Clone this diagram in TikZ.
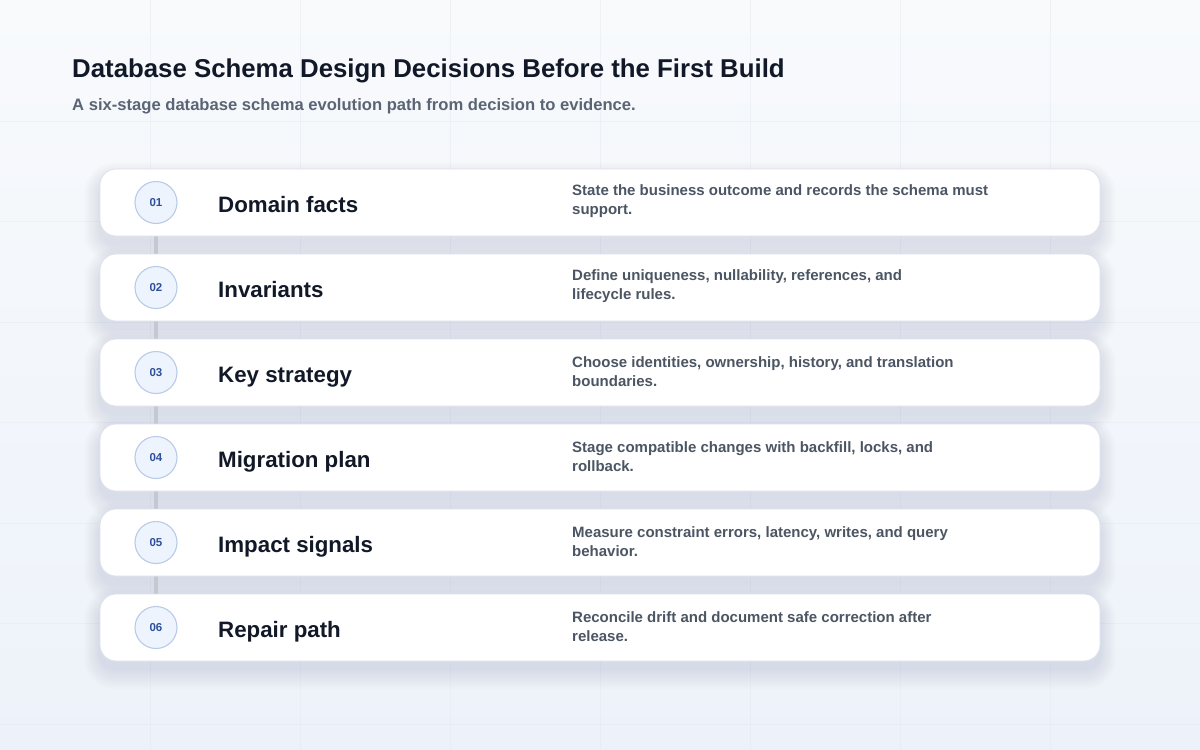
\documentclass[tikz,border=0pt]{standalone}
\usepackage{fontspec}
\setmainfont{Liberation Sans}
\definecolor{bgA}{HTML}{F8FAFC}
\definecolor{bgB}{HTML}{EDF2FA}
\definecolor{gridc}{HTML}{E4E9F1}
\definecolor{shadowc}{HTML}{3B4A70}
\definecolor{cardline}{HTML}{DCE2EC}
\definecolor{discfill}{HTML}{EEF4FD}
\definecolor{discline}{HTML}{B9CBE6}
\definecolor{disctext}{HTML}{2F4F9C}
\definecolor{titlec}{HTML}{111827}
\definecolor{subc}{HTML}{5B6474}
\definecolor{descc}{HTML}{4B5563}
\definecolor{connc}{HTML}{C4C8D0}
\pgfdeclarelayer{bg}
\pgfdeclarelayer{conn}
\pgfsetlayers{bg,conn,main}
\tikzset{
  cardbox/.style={draw=cardline, line width=0.8pt, fill=white, rounded corners=16pt,
    minimum width=1000pt, minimum height=67pt, inner sep=0pt},
  numdisc/.style={circle, draw=discline, line width=1.1pt, fill=discfill, minimum size=42pt,
    inner sep=0pt, text=disctext, font=\fontsize{11.5}{13}\selectfont\bfseries},
  stagetitle/.style={anchor=base west, inner sep=0pt, text=titlec,
    font=\fontsize{22.3}{26}\selectfont\bfseries},
  stagedesc/.style={anchor=west, inner sep=0pt, align=left, text=descc,
    font=\fontsize{15}{19}\selectfont\bfseries},
  connline/.style={draw=connc, line width=3.5pt},
  headline/.style={anchor=base west, inner sep=0pt, text=titlec,
    font=\fontsize{25.8}{30}\selectfont\bfseries},
  subline/.style={anchor=base west, inner sep=0pt, text=subc,
    font=\fontsize{16.6}{19}\selectfont\bfseries}
}
\newcommand\stagecard[6]{%
  \begin{pgfonlayer}{bg}
    \foreach \i in {1,...,12} {
      \fill[shadowc, opacity=0.0075, rounded corners={(16+\i*1.2)*1pt}]
        (100-\i*1.3, #2+10-\i*1.4) rectangle (1100+\i*1.3, #2+67+8+\i*1.7);
    }
  \end{pgfonlayer}
  \node[cardbox] (card#1) at (600, #2+33.5) {};
  \node[numdisc] (c#1) at (156, #2+33.5) {#3};
  \node[stagetitle] (t#1) at (218, #2+43) {#4};
  \node[stagedesc] (d#1) at (572, #2+32.5) {#5\\#6};
}
\begin{document}
\begin{tikzpicture}[x=1pt,y=-1pt]
\useasboundingbox (0,0) rectangle (1200,750);
\begin{pgfonlayer}{bg}
  \shade[top color=bgA, bottom color=bgB] (0,0) rectangle (1200,750);
  \foreach \gx in {150,300,...,1050} { \draw[gridc, opacity=0.45, line width=0.6pt] (\gx,0) -- (\gx,750); }
  \foreach \gy in {0,...,6} { \draw[gridc, opacity=0.45, line width=0.6pt] (0,121+\gy*100.5) -- (1200,121+\gy*100.5); }
\end{pgfonlayer}
\node[headline] (head) at (72,77) {Database Schema Design Decisions Before the First Build};
\node[subline] (sub) at (72,110) {A six-stage database schema evolution path from decision to evidence.};
\stagecard{1}{169}{01}{Domain facts}{State the business outcome and records the schema must}{support.}
\stagecard{2}{254}{02}{Invariants}{Define uniqueness, nullability, references, and}{lifecycle rules.}
\stagecard{3}{339}{03}{Key strategy}{Choose identities, ownership, history, and translation}{boundaries.}
\stagecard{4}{424}{04}{Migration plan}{Stage compatible changes with backfill, locks, and}{rollback.}
\stagecard{5}{509}{05}{Impact signals}{Measure constraint errors, latency, writes, and query}{behavior.}
\stagecard{6}{594}{06}{Repair path}{Reconcile drift and document safe correction after}{release.}
\begin{pgfonlayer}{conn}
  \foreach \a/\b in {1/2,2/3,3/4,4/5,5/6} {
    \draw[connline] (card\a.south -| c\a) -- (card\b.north -| c\b);
  }
\end{pgfonlayer}
\end{tikzpicture}
\end{document}
